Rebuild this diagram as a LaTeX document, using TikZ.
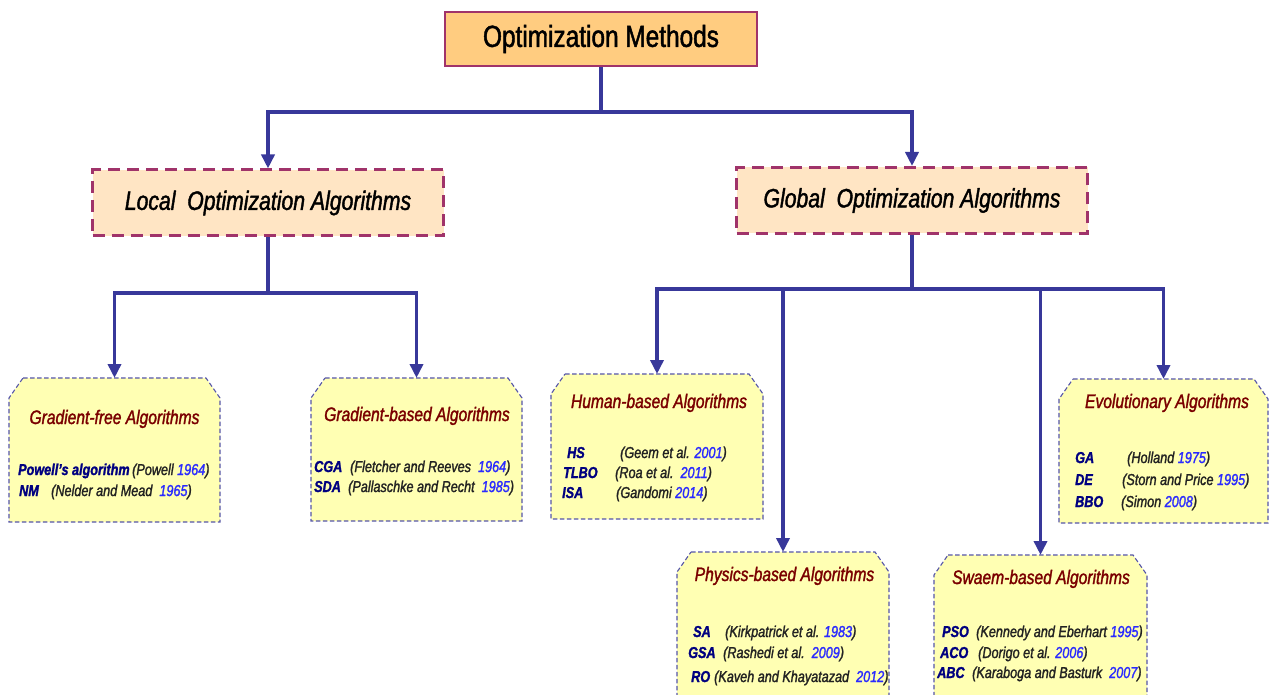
\documentclass[tikz,border=0pt]{standalone}
\usepackage{fontspec}
\setmainfont{Liberation Sans}[FakeStretch=0.8,FakeBold=1.5]
\usetikzlibrary{arrows.meta}
\definecolor{conncol}{HTML}{38389A}
\definecolor{maroonb}{HTML}{A0336A}
\definecolor{topfill}{HTML}{FFCC80}
\definecolor{bigfill}{HTML}{FFE5C4}
\definecolor{smallfill}{HTML}{FFFFB3}
\definecolor{smallline}{HTML}{5555A8}
\definecolor{ttlcol}{HTML}{7A0000}
\definecolor{abcol}{HTML}{000080}
\definecolor{citcol}{HTML}{222222}
\definecolor{yrcol}{HTML}{2A2AFF}
\newcommand\yr[1]{{\color{yrcol}#1}}
\newcommand\chambox[5]{%
  \node[anchor=north west, inner sep=0pt, outer sep=0pt,
        minimum width={(#4-#2)*1pt}, minimum height={(#5-#3)*1pt}] (#1) at (#2,#3) {};
  \draw[smallbox] (#2+14,#3) -- (#4-14,#3) -- (#4,#3+20) -- (#4,#5) -- (#2,#5) -- (#2,#3+20) -- cycle;
}
\tikzset{
  conn/.style={draw=conncol, line width=3.5pt},
  arr/.style={conn, -{Triangle[width=13pt,length=14pt]}},
  topbox/.style={draw=maroonb, line width=2.5pt, fill=topfill, minimum width=312pt,
    minimum height=54pt, inner sep=0pt, font=\fontsize{30.5}{32}\selectfont},
  bigbox/.style={draw=maroonb, line width=3pt, dash pattern=on 12pt off 7pt, fill=bigfill,
    minimum width=351pt, minimum height=66pt, inner sep=0pt, font=\fontsize{26.5}{28}\selectfont\itshape},
  smallbox/.style={draw=smallline, line width=1.1pt, dash pattern=on 4.5pt off 2.5pt, fill=smallfill},
  ttl/.style={anchor=base, text=ttlcol, inner sep=0pt, font=\fontsize{19.5}{21}\selectfont\itshape},
  ab/.style={anchor=base west, text=abcol, inner sep=0pt, font=\fontsize{15.8}{17}\selectfont\bfseries\itshape},
  cit/.style={anchor=base west, text=citcol, inner sep=0pt, font=\fontsize{15.8}{17}\selectfont\itshape},
}
\begin{document}
\begin{tikzpicture}[x=1pt,y=-1pt]
\useasboundingbox (0,0) rectangle (1269,695);
\clip (0,0) rectangle (1269,695);

% main boxes
\node[topbox] (top) at (601,39) {Optimization Methods};
\node[bigbox] (local) at (268,203) {Local\ \ Optimization Algorithms};
\node[bigbox] (global) at (912,200.5) {Global\ \ Optimization Algorithms};

% category boxes
\chambox{gf}{9}{378}{220}{522}
\chambox{gb}{311}{378}{522}{521}
\chambox{hu}{551}{374}{763}{519}
\chambox{ev}{1059}{379}{1268}{523}
\chambox{ph}{677}{552}{889}{715}
\chambox{sw}{934}{555}{1147}{715}

% titles
\node[ttl] (gf-t) at (114.5,424) {Gradient-free Algorithms};
\node[ttl] (gb-t) at (417,421) {Gradient-based Algorithms};
\node[ttl] (hu-t) at (659,408) {Human-based Algorithms};
\node[ttl] (ev-t) at (1167,408) {Evolutionary Algorithms};
\node[ttl] (ph-t) at (784.5,581) {Physics-based Algorithms};
\node[ttl] (sw-t) at (1041,584) {Swaem-based Algorithms};

% items
\node[ab] (gf-a1) at (18,475) {Powell's algorithm};
\node[cit] (gf-c1) at (132,475) {(Powell \yr{1964})};
\node[ab] (gf-a2) at (19,496) {NM};
\node[cit] (gf-c2) at (51,496) {(Nelder and Mead\ \ \yr{1965})};

\node[ab] (gb-a1) at (314,472) {CGA};
\node[cit] (gb-c1) at (350,472) {(Fletcher and Reeves\ \ \yr{1964})};
\node[ab] (gb-a2) at (314,492) {SDA};
\node[cit] (gb-c2) at (348,492) {(Pallaschke and Recht\ \ \yr{1985})};

\node[ab] (hu-a1) at (567,458) {HS};
\node[cit] (hu-c1) at (620,458) {(Geem et al. \yr{2001})};
\node[ab] (hu-a2) at (563,478) {TLBO};
\node[cit] (hu-c2) at (615,478) {(Roa et al.\ \ \yr{2011})};
\node[ab] (hu-a3) at (562,498) {ISA};
\node[cit] (hu-c3) at (616,498) {(Gandomi \yr{2014})};

\node[ab] (ev-a1) at (1075,463) {GA};
\node[cit] (ev-c1) at (1127,463) {(Holland \yr{1975})};
\node[ab] (ev-a2) at (1075,485) {DE};
\node[cit] (ev-c2) at (1122,485) {(Storn and Price \yr{1995})};
\node[ab] (ev-a3) at (1075,507) {BBO};
\node[cit] (ev-c3) at (1121,507) {(Simon \yr{2008})};

\node[ab] (ph-a1) at (693,637) {SA};
\node[cit] (ph-c1) at (725,637) {(Kirkpatrick et al. \yr{1983})};
\node[ab] (ph-a2) at (688,658) {GSA};
\node[cit] (ph-c2) at (723,658) {(Rashedi et al.\ \ \yr{2009})};
\node[ab] (ph-a3) at (691,682) {RO};
\node[cit] (ph-c3) at (714,682) {(Kaveh and Khayatazad\ \ \yr{2012})};

\node[ab] (sw-a1) at (942,637) {PSO};
\node[cit] (sw-c1) at (976,637) {(Kennedy and Eberhart \yr{1995})};
\node[ab] (sw-a2) at (940,658) {ACO};
\node[cit] (sw-c2) at (978,658) {(Dorigo et al. \yr{2006})};
\node[ab] (sw-a3) at (937,678) {ABC};
\node[cit] (sw-c3) at (972,678) {(Karaboga and Basturk\ \ \yr{2007})};

% connectors
\coordinate (j0) at (601,112);
\coordinate (j1) at (268,293);
\coordinate (j2) at (912,289);
\draw[conn] (top.south) -- (j0);
\draw[arr] (j0) -| (local.north);
\draw[arr] (j0) -| (global.north);
\draw[conn] (local.south) -- (j1);
\draw[arr] (j1) -| (gf.north);
\draw[arr] (j1) -| (gb.north);
\draw[conn] (global.south) -- (j2);
\draw[arr] (j2) -| (hu.north);
\draw[arr] (j2) -| (ph.north);
\draw[arr] (j2) -| (sw.north);
\draw[arr] (j2) -| (ev.north);
\end{tikzpicture}
\end{document}
